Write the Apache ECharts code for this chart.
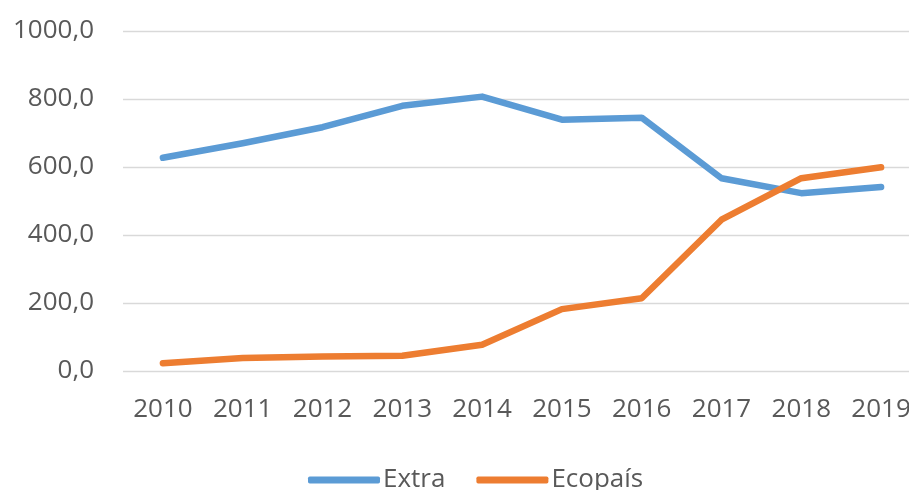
<!DOCTYPE html>
<html>
<head>
<meta charset="utf-8">
<script src="https://cdn.jsdelivr.net/npm/echarts@6/dist/echarts.min.js"></script>
<style>html,body{margin:0;padding:0;background:#fff;overflow:hidden;width:909px;height:490px;}#c{width:925px;height:490px;}</style>
</head>
<body>
<div id="c"></div>
<script>
const years = ['2010','2011','2012','2013','2014','2015','2016','2017','2018','2019'];
const extra = [627, 670, 717, 780, 807, 739, 745, 567, 523, 541];
const ecopais = [23, 38, 43, 45, 77, 182, 214, 445, 567, 599];
const seriesNames = ['Extra', 'Ecopaís'];

const font = '"Open Sans", sans-serif';
const chart = echarts.init(document.getElementById('c'), null, {renderer: 'canvas'});
chart.setOption({
  animation: false,
  backgroundColor: '#ffffff',
  grid: {left: 123, top: 31, right: 4, height: 340, containLabel: false},
  legend: {
    data: seriesNames,
    top: 462,
    left: 303,
    icon: 'roundRect',
    itemWidth: 72,
    itemHeight: 7,
    itemGap: 31,
    textStyle: {fontFamily: font, fontSize: 26, color: '#595959', padding: [0,0,0,-2]}
  },
  xAxis: {
    type: 'category',
    data: years,
    boundaryGap: true,
    axisLine: {show: false},
    axisTick: {show: false},
    axisLabel: {fontFamily: font, fontSize: 26, color: '#595959', margin: 26}
  },
  yAxis: {
    type: 'value',
    min: 0, max: 1000, interval: 200,
    axisLine: {show: false},
    axisTick: {show: false},
    splitLine: {lineStyle: {color: '#d9d9d9', width: 1.3}},
    axisLabel: {
      fontFamily: font, fontSize: 26, color: '#595959', margin: 29,
      formatter: v => v.toFixed(1).replace('.', ',')
    }
  },
  series: [
    {name: seriesNames[0], type: 'line', data: extra, symbol: 'none',
     lineStyle: {width: 6.5, color: '#5B9BD5', cap: 'round', join: 'round'}, itemStyle: {color: '#5B9BD5'}},
    {name: seriesNames[1], type: 'line', data: ecopais, symbol: 'none',
     lineStyle: {width: 6.5, color: '#ED7D31', cap: 'round', join: 'round'}, itemStyle: {color: '#ED7D31'}}
  ]
});
</script>
</body>
</html>
